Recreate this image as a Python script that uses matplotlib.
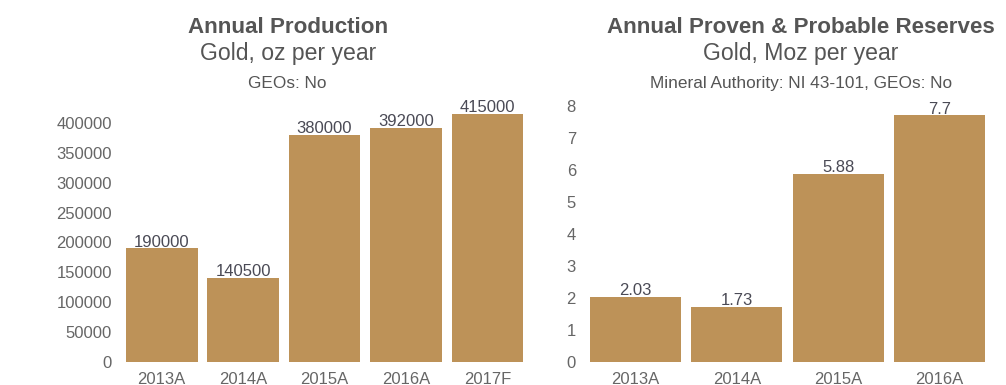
import matplotlib
matplotlib.use('Agg')
import matplotlib.pyplot as plt

# data
prod_years = ['2013A', '2014A', '2015A', '2016A', '2017F']
prod_oz = [190000, 140500, 380000, 392000, 415000]

res_years = ['2013A', '2014A', '2015A', '2016A']
res_moz = [2.03, 1.73, 5.88, 7.7]
res_labels = ['2.03', '1.73', '5.88', '7.7']

BAR = '#BD9258'
TITLE = '#555555'
TICK = '#666666'
VAL = '#4a4a55'

plt.rcParams['font.family'] = ['Liberation Sans', 'DejaVu Sans']

fig = plt.figure(figsize=(10.06, 3.85), dpi=100)
ax1 = fig.add_axes([0.1203, 0.0597, 0.4046, 0.699])
ax2 = fig.add_axes([0.5815, 0.0597, 0.4026, 0.699])


def style(ax):
    for s in ax.spines.values():
        s.set_visible(False)
    ax.tick_params(length=0, labelsize=12, colors=TICK)
    ax.tick_params(axis='y', pad=6.5)
    ax.tick_params(axis='x', pad=7)


b1 = ax1.bar(prod_years, prod_oz, width=0.88, color=BAR)
ax1.set_xlim(-0.5, 4.5)
ax1.set_ylim(0, 450000)
ax1.set_yticks(range(0, 400001, 50000))
ax1.bar_label(b1, labels=[str(v) for v in prod_oz], padding=-1,
              fontsize=12, color=VAL)
style(ax1)

b2 = ax2.bar(res_years, res_moz, width=0.9, color=BAR)
ax2.set_xlim(-0.5, 3.5)
ax2.set_ylim(0, 8.4)
ax2.set_yticks(range(0, 9))
ax2.bar_label(b2, labels=res_labels, padding=-1, fontsize=12, color=VAL)
style(ax2)

# titles
for x, t, s, n in [(0.286, 'Annual Production', 'Gold, oz per year', 'GEOs: No'),
                   (0.796, 'Annual Proven & Probable Reserves', 'Gold, Moz per year',
                    'Mineral Authority: NI 43-101, GEOs: No')]:
    fig.text(x, 0.9143, t, ha='center', va='baseline', fontsize=16.1,
             fontweight='bold', color=TITLE)
    fig.text(x, 0.8442, s, ha='center', va='baseline', fontsize=16.6, color=TITLE)
    fig.text(x, 0.7714, n, ha='center', va='baseline', fontsize=12.4, color=TITLE)

fig.savefig('out.png', dpi=100)
